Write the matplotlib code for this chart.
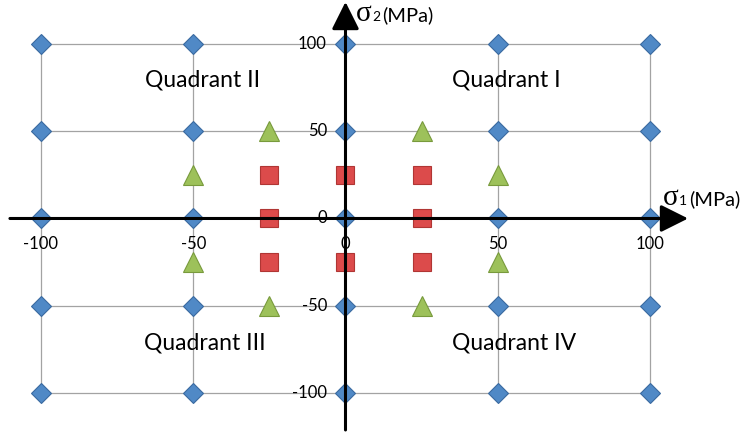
import matplotlib.pyplot as plt

plt.rcParams["font.family"] = ["Lato", "DejaVu Sans"]
plt.rcParams["mathtext.fontset"] = "custom"
plt.rcParams["mathtext.rm"] = "Liberation Serif"

# stress states on the sigma1 / sigma2 plane
grid_levels = [-100, -50, 0, 50, 100]

diamond_x = [-100, -50, 0, 50, 100,
             -100, -50, 0, 50, 100,
             -100, -50, 0, 50, 100,
             -100, -50, 0, 50, 100,
             -100, -50, 0, 50, 100]
diamond_y = [100, 100, 100, 100, 100,
             50, 50, 50, 50, 50,
             0, 0, 0, 0, 0,
             -50, -50, -50, -50, -50,
             -100, -100, -100, -100, -100]

tri_x = [-25, 25, -50, 50, -50, 50, -25, 25]
tri_y = [50, 50, 25, 25, -25, -25, -50, -50]

sq_x = [-25, 0, 25, -25, 25, -25, 0, 25]
sq_y = [25, 25, 25, 0, 0, -25, -25, -25]

tick_labels = ["-100", "-50", "0", "50", "100"]

quadrants = ["Quadrant I", "Quadrant II", "Quadrant III", "Quadrant IV"]
quad_x = [52.9, -47.0, -46.1, 55.3]
quad_y = [79.4, 79.4, -71.3, -71.3]

fig = plt.figure(figsize=(7.49, 4.34), dpi=100)
ax = fig.add_axes([0, 0, 1, 1])
ax.set_xlim(-113.46, 132.51)
ax.set_ylim(-123.5, 125.2)
ax.axis("off")

# gray grid, only inside the +-100 box
for v in grid_levels:
    ax.plot([v, v], [-100, 100], color="#a3a3a3", lw=0.9, zorder=1)
    ax.plot([-100, 100], [v, v], color="#a3a3a3", lw=0.9, zorder=1)

ax.plot(diamond_x, diamond_y, "D", ms=10.5, mfc="#5089c6", mec="#3a6aa0",
        mew=0.8, ls="none", zorder=3)
ax.plot(tri_x, tri_y, "^", ms=14, mfc="#9dc15a", mec="#789a3c",
        mew=0.8, ls="none", zorder=3)
ax.plot(sq_x, sq_y, "s", ms=13.5, mfc="#dc4b4b", mec="#b03634",
        mew=0.8, ls="none", zorder=3)

# main axes with arrow heads
arrow = dict(arrowstyle="-|>,head_length=0.6,head_width=0.3", lw=2.2,
             color="black", mutation_scale=28, shrinkA=0, shrinkB=0)
ax.annotate("", xy=(112.5, 0), xytext=(-110.2, 0), arrowprops=arrow, zorder=4)
ax.annotate("", xy=(0, 124.1), xytext=(0, -121.2), arrowprops=arrow, zorder=4)

for v, lab in zip(grid_levels, tick_labels):
    ax.text(v, -14.6, lab, ha="center", va="center", fontsize=12, zorder=5)
    ax.text(-6.1, v, lab, ha="right", va="center", fontsize=12, zorder=5)

for lab, x, y in zip(quadrants, quad_x, quad_y):
    ax.text(x, y, lab, ha="center", va="center", fontsize=16.5, zorder=5)

# axis names: sigma + small index + unit
ax.text(3.1, 112.9, r"$\mathrm{σ}$", fontsize=21, ha="left", va="baseline")
ax.text(8.7, 112.9, "2", fontsize=10, ha="left", va="baseline")
ax.text(12.1, 112.9, "(MPa)", fontsize=14.5, ha="left", va="baseline")

ax.text(103.9, 7.7, r"$\mathrm{σ}$", fontsize=21, ha="left", va="baseline")
ax.text(109.5, 7.7, "1", fontsize=10, ha="left", va="baseline")
ax.text(112.9, 7.7, "(MPa)", fontsize=14.5, ha="left", va="baseline")

fig.savefig("out.png", dpi=100)
